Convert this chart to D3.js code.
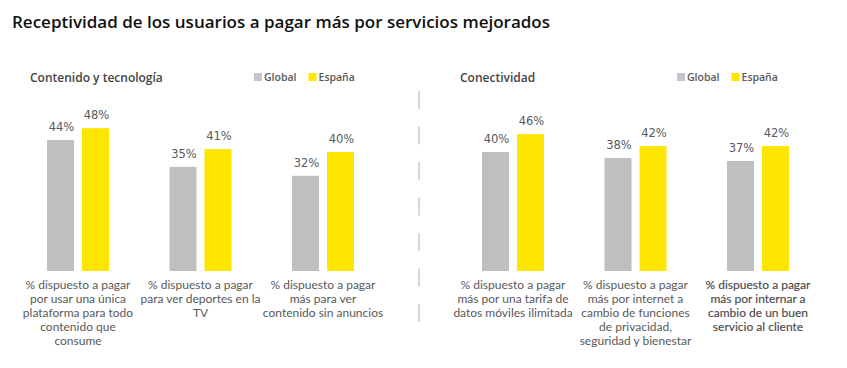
<!DOCTYPE html>
<html>
<head>
<meta charset="utf-8">
<script src="https://cdn.jsdelivr.net/npm/d3@7/dist/d3.min.js"></script>
<style>
  html, body { margin: 0; padding: 0; background: #fff; }
  svg { display: block; }
</style>
</head>
<body>
<script>
// ---- Data ----
const chartTitle = "Receptividad de los usuarios a pagar más por servicios mejorados";
const series = ["Global", "España"];
const panelTitles = ["Contenido y tecnología", "Conectividad"];

const leftCategories = [
  "% dispuesto a pagar\npor usar una única\nplataforma para todo\ncontenido que\nconsume",
  "% dispuesto a pagar\npara ver deportes en la\nTV",
  "% dispuesto a pagar\nmás para ver\ncontenido sin anuncios"
];
const leftGlobal = [44, 35, 32];
const leftEspana = [48, 41, 40];

const rightCategories = [
  "% dispuesto a pagar\nmás por una tarifa de\ndatos móviles ilimitada",
  "% dispuesto a pagar\nmás por internet a\ncambio de funciones\nde privacidad,\nseguridad y bienestar",
  "% dispuesto a pagar\nmás por internar a\ncambio de un buen\nservicio al cliente"
];
const rightGlobal = [40, 38, 37];
const rightEspana = [46, 42, 42];

// ---- Setup ----
const W = 847, H = 368;
const svg = d3.select("body").append("svg").attr("width", W).attr("height", H);

const colors = { "Global": "#bfbfbf", "España": "#ffe600" };
const legendColors = { "Global": "#c4c4cc", "España": "#ffe600" };
const textGray = "#595959";

svg.append("text")
  .attr("x", 12).attr("y", 28)
  .attr("font-family", "'Open Sans', sans-serif")
  .attr("font-weight", 600)
  .attr("font-size", 17)
  .attr("fill", "#111")
  .text(chartTitle);

const baseline = 271;
const y = d3.scaleLinear().domain([0, 100]).range([baseline, baseline - 297.5]);

const panels = [
  { title: panelTitles[0], titleX: 30, legendX: 254, cats: leftCategories, g: leftGlobal, e: leftEspana, range: [16.75, 384.25], dark: [false, false, false] },
  { title: panelTitles[1], titleX: 460, legendX: 677, cats: rightCategories, g: rightGlobal, e: rightEspana, range: [451.75, 819.25], dark: [false, false, true] }
];

panels.forEach(p => {
  const gP = svg.append("g");
  // panel title
  gP.append("text")
    .attr("x", p.titleX).attr("y", 82)
    .attr("font-family", "'Open Sans', sans-serif")
    .attr("font-weight", 600)
    .attr("font-size", 12)
    .attr("fill", "#444")
    .text(p.title);

  // legend
  const leg = gP.append("g").attr("transform", `translate(${p.legendX},0)`);
  let lx = 0;
  series.forEach((s, i) => {
    leg.append("rect").attr("x", lx).attr("y", 73).attr("width", 8).attr("height", 8)
      .attr("fill", legendColors[s]);
    const t = leg.append("text").attr("x", lx + 10).attr("y", 81)
      .attr("font-family", "'Open Sans', sans-serif")
      .attr("font-weight", 600)
      .attr("font-size", 10.5)
      .attr("fill", textGray)
      .text(s);
    lx += 10 + t.node().getComputedTextLength() + 12;
  });

  const x0 = d3.scaleBand().domain(d3.range(p.cats.length)).range(p.range).paddingInner(0).paddingOuter(0);
  const x1 = d3.scaleBand().domain(series).range([-31, 31]).paddingInner(8 / 35).paddingOuter(0);

  const rows = p.cats.map((c, i) => ({ i, cat: c, vals: [{ s: "Global", v: p.g[i] }, { s: "España", v: p.e[i] }] }));

  const grp = gP.selectAll("g.grp").data(rows).join("g")
    .attr("class", "grp")
    .attr("transform", d => `translate(${x0(d.i) + x0.bandwidth() / 2},0)`);

  grp.selectAll("rect").data(d => d.vals).join("rect")
    .attr("x", d => x1(d.s))
    .attr("width", x1.bandwidth())
    .attr("y", d => y(d.v))
    .attr("height", d => baseline - y(d.v))
    .attr("fill", d => colors[d.s]);

  grp.selectAll("text.val").data(d => d.vals).join("text")
    .attr("class", "val")
    .attr("x", d => x1(d.s) + x1.bandwidth() / 2 + 1)
    .attr("y", d => y(d.v) - 9)
    .attr("text-anchor", "middle")
    .attr("font-family", "'DejaVu Sans', sans-serif")
    .attr("font-size", 11.5)
    .attr("fill", textGray)
    .text(d => d.v + "%");

  grp.each(function(d) {
    const lines = d.cat.split("\n");
    const t = d3.select(this).append("text")
      .attr("text-anchor", "middle")
      .attr("font-family", "Lato, sans-serif")
      .attr("font-size", 12)
      .attr("fill", p.dark[d.i] ? "#4a4a4a" : textGray)
      .attr("stroke", p.dark[d.i] ? "#4a4a4a" : "none")
      .attr("stroke-width", p.dark[d.i] ? 0.15 : 0);
    lines.forEach((ln, k) => {
      t.append("tspan").attr("x", 0).attr("y", 289 + k * 14).text(ln);
    });
  });
});

// divider
svg.append("line")
  .attr("x1", 419).attr("x2", 419)
  .attr("y1", 91).attr("y2", 324)
  .attr("stroke", "#c8cccc")
  .attr("stroke-width", 1.5)
  .attr("stroke-dasharray", "18,17.5");
</script>
</body>
</html>
